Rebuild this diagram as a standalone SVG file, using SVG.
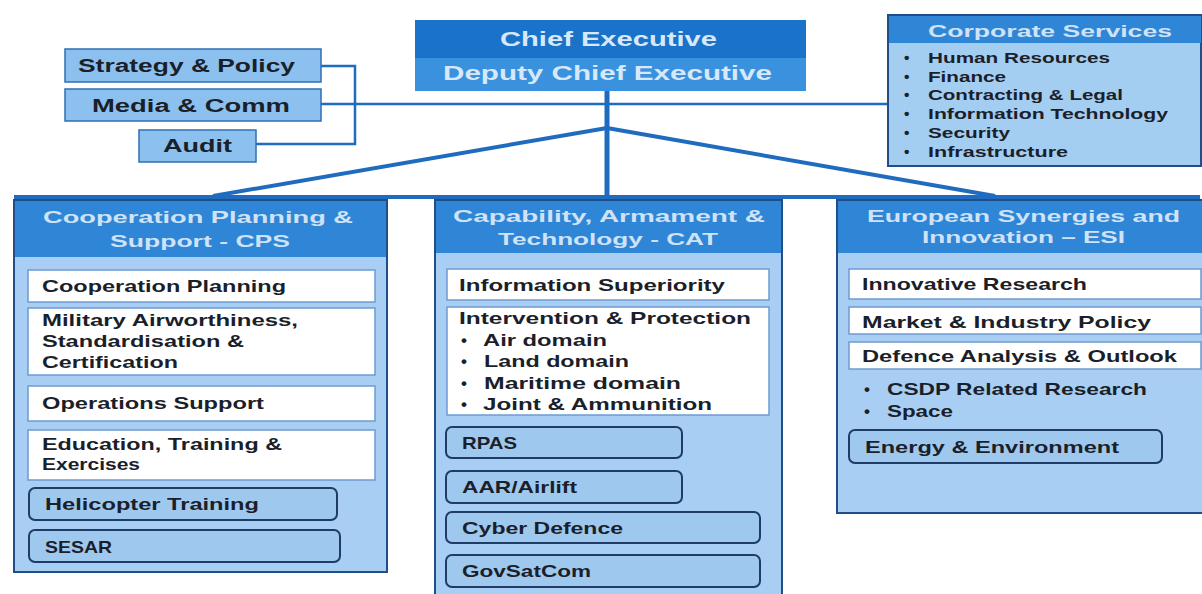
<svg xmlns="http://www.w3.org/2000/svg" width="1202" height="594" viewBox="0 0 1202 594">
<style>
text{font-family:"Liberation Sans",Arial,sans-serif;font-weight:bold;fill:#1b1f2a;}
.t{font-size:17px;}
.h{font-size:17px;fill:#cfe2f6;}
.ce{font-size:20px;fill:#d6e8fa;}
.cs{font-size:15.5px;}
.top{fill:#8cc0ee;stroke:#2f6fb3;stroke-width:1.5;}
.col{fill:#a8cff3;stroke:#1f4f86;stroke-width:2;}
.hdr{fill:#2f86d6;}
.wb{fill:#ffffff;stroke:#6d9bd0;stroke-width:1.5;}
.rb{fill:#9fc8ef;stroke:#1e3c66;stroke-width:2;}
.ln{stroke:#1f6bbf;fill:none;}
</style>
<rect width="1202" height="594" fill="#ffffff"/>
<g id="connectors">
<polyline class="ln" stroke-width="2.5" points="321,66 355,66 355,144 256,144"/>
<line class="ln" stroke-width="2.5" x1="321" y1="104" x2="889" y2="104"/>
<line class="ln" stroke-width="5" x1="607" y1="91" x2="607" y2="198"/>
<line class="ln" stroke-width="4" x1="607" y1="128" x2="213" y2="196"/>
<line class="ln" stroke-width="4" x1="607" y1="128" x2="995" y2="196"/>
<line class="ln" stroke-width="4" x1="14" y1="197" x2="1200" y2="197"/>
</g>
<g id="strategy">
<rect class="top" x="65" y="49" width="256" height="33"/>
<text class="t" x="78" y="72" textLength="217" lengthAdjust="spacingAndGlyphs" style="font-size:18px">Strategy &amp; Policy</text>
</g>
<g id="media">
<rect class="top" x="65" y="89" width="256" height="32"/>
<text class="t" x="92" y="112" textLength="198" lengthAdjust="spacingAndGlyphs" style="font-size:18px">Media &amp; Comm</text>
</g>
<g id="audit">
<rect class="top" x="139" y="130" width="117" height="32"/>
<text class="t" x="163" y="152" textLength="69" lengthAdjust="spacingAndGlyphs" style="font-size:18px">Audit</text>
</g>
<g id="chief">
<rect x="415" y="20" width="391" height="38" fill="#1a73c8"/>
<rect x="415" y="58" width="391" height="33" fill="#3a92de"/>
<text class="ce" x="500" y="46" textLength="217" lengthAdjust="spacingAndGlyphs">Chief Executive</text>
<text class="ce" x="443" y="80" textLength="329" lengthAdjust="spacingAndGlyphs">Deputy Chief Executive</text>
</g>
<g id="corporate">
<rect x="888" y="15" width="313" height="151" fill="#a4cdf2" stroke="#1f4f86" stroke-width="2"/>
<rect x="889" y="16" width="312" height="27" class="hdr"/>
<text class="h" x="928" y="37" textLength="244" lengthAdjust="spacingAndGlyphs">Corporate Services</text>
<text class="cs" x="904" y="63">•</text><text class="cs" x="928" y="63" textLength="182" lengthAdjust="spacingAndGlyphs">Human Resources</text>
<text class="cs" x="904" y="82">•</text><text class="cs" x="928" y="82" textLength="78" lengthAdjust="spacingAndGlyphs">Finance</text>
<text class="cs" x="904" y="100">•</text><text class="cs" x="928" y="100" textLength="195" lengthAdjust="spacingAndGlyphs">Contracting &amp; Legal</text>
<text class="cs" x="904" y="119">•</text><text class="cs" x="928" y="119" textLength="240" lengthAdjust="spacingAndGlyphs">Information Technology</text>
<text class="cs" x="904" y="138">•</text><text class="cs" x="928" y="138" textLength="82" lengthAdjust="spacingAndGlyphs">Security</text>
<text class="cs" x="904" y="157">•</text><text class="cs" x="928" y="157" textLength="140" lengthAdjust="spacingAndGlyphs">Infrastructure</text>
</g>
<g id="cps">
<rect class="col" x="14" y="200" width="373" height="372"/>
<rect class="hdr" x="15" y="201" width="371" height="56"/>
<text class="h" x="43" y="223" textLength="310" lengthAdjust="spacingAndGlyphs">Cooperation Planning &amp;</text>
<text class="h" x="110" y="247" textLength="180" lengthAdjust="spacingAndGlyphs">Support  - CPS</text>
<rect class="wb" x="28" y="270" width="347" height="32"/>
<text class="t" x="42" y="292" textLength="244" lengthAdjust="spacingAndGlyphs">Cooperation  Planning</text>
<rect class="wb" x="28" y="308" width="347" height="67"/>
<text class="t" x="42" y="326" textLength="256" lengthAdjust="spacingAndGlyphs">Military Airworthiness,</text>
<text class="t" x="42" y="347" textLength="202" lengthAdjust="spacingAndGlyphs">Standardisation &amp;</text>
<text class="t" x="42" y="368" textLength="136" lengthAdjust="spacingAndGlyphs">Certification</text>
<rect class="wb" x="28" y="386" width="347" height="35"/>
<text class="t" x="42" y="409" textLength="222" lengthAdjust="spacingAndGlyphs">Operations  Support</text>
<rect class="wb" x="28" y="430" width="347" height="50"/>
<text class="t" x="42" y="450" textLength="240" lengthAdjust="spacingAndGlyphs">Education, Training &amp;</text>
<text class="t" x="42" y="470" textLength="98" lengthAdjust="spacingAndGlyphs">Exercises</text>
<rect class="rb" x="29" y="488" width="308" height="32" rx="6"/>
<text class="t" x="45" y="510" textLength="214" lengthAdjust="spacingAndGlyphs">Helicopter  Training</text>
<rect class="rb" x="29" y="530" width="311" height="32" rx="6"/>
<text class="t" x="45" y="553" textLength="67" lengthAdjust="spacingAndGlyphs">SESAR</text>
</g>
<g id="cat">
<rect class="col" x="435" y="200" width="347" height="400"/>
<rect class="hdr" x="436" y="201" width="345" height="52"/>
<text class="h" x="453" y="222" textLength="312" lengthAdjust="spacingAndGlyphs">Capability, Armament &amp;</text>
<text class="h" x="498" y="245" textLength="220" lengthAdjust="spacingAndGlyphs">Technology - CAT</text>
<rect class="wb" x="447" y="269" width="322" height="31"/>
<text class="t" x="459" y="291" textLength="266" lengthAdjust="spacingAndGlyphs">Information  Superiority</text>
<rect class="wb" x="447" y="307" width="322" height="108"/>
<text class="t" x="459" y="324" textLength="292" lengthAdjust="spacingAndGlyphs">Intervention  &amp; Protection</text>
<text class="t" x="461" y="346">•</text><text class="t" x="483" y="346" textLength="124" lengthAdjust="spacingAndGlyphs">Air domain</text>
<text class="t" x="461" y="367">•</text><text class="t" x="484" y="367" textLength="145" lengthAdjust="spacingAndGlyphs">Land domain</text>
<text class="t" x="461" y="389">•</text><text class="t" x="484" y="389" textLength="197" lengthAdjust="spacingAndGlyphs">Maritime domain</text>
<text class="t" x="461" y="410">•</text><text class="t" x="483" y="410" textLength="229" lengthAdjust="spacingAndGlyphs">Joint &amp; Ammunition</text>
<rect class="rb" x="446" y="427" width="236" height="31" rx="6"/>
<text class="t" x="462" y="449" textLength="55" lengthAdjust="spacingAndGlyphs">RPAS</text>
<rect class="rb" x="446" y="471" width="236" height="32" rx="6"/>
<text class="t" x="462" y="493" textLength="115" lengthAdjust="spacingAndGlyphs">AAR/Airlift</text>
<rect class="rb" x="446" y="512" width="314" height="31" rx="6"/>
<text class="t" x="462" y="534" textLength="161" lengthAdjust="spacingAndGlyphs">Cyber  Defence</text>
<rect class="rb" x="446" y="555" width="314" height="32" rx="6"/>
<text class="t" x="462" y="577" textLength="129" lengthAdjust="spacingAndGlyphs">GovSatCom</text>
</g>
<g id="esi">
<rect class="col" x="837" y="200" width="366" height="313"/>
<rect class="hdr" x="838" y="201" width="364" height="52"/>
<text class="h" x="867" y="222" textLength="313" lengthAdjust="spacingAndGlyphs">European Synergies and</text>
<text class="h" x="922" y="243" textLength="203" lengthAdjust="spacingAndGlyphs">Innovation – ESI</text>
<rect class="wb" x="849" y="269" width="352" height="30"/>
<text class="t" x="862" y="290" textLength="225" lengthAdjust="spacingAndGlyphs">Innovative  Research</text>
<rect class="wb" x="849" y="307" width="352" height="27"/>
<text class="t" x="862" y="328" textLength="289" lengthAdjust="spacingAndGlyphs">Market  &amp; Industry  Policy</text>
<rect class="wb" x="849" y="342" width="352" height="27"/>
<text class="t" x="862" y="362" textLength="315" lengthAdjust="spacingAndGlyphs">Defence  Analysis &amp; Outlook</text>
<text class="t" x="864" y="395">•</text><text class="t" x="887" y="395" textLength="260" lengthAdjust="spacingAndGlyphs">CSDP Related  Research</text>
<text class="t" x="864" y="417">•</text><text class="t" x="887" y="417" textLength="66" lengthAdjust="spacingAndGlyphs">Space</text>
<rect class="rb" x="849" y="430" width="313" height="33" rx="6"/>
<text class="t" x="865" y="453" textLength="254" lengthAdjust="spacingAndGlyphs">Energy &amp; Environment</text>
</g>
</svg>
